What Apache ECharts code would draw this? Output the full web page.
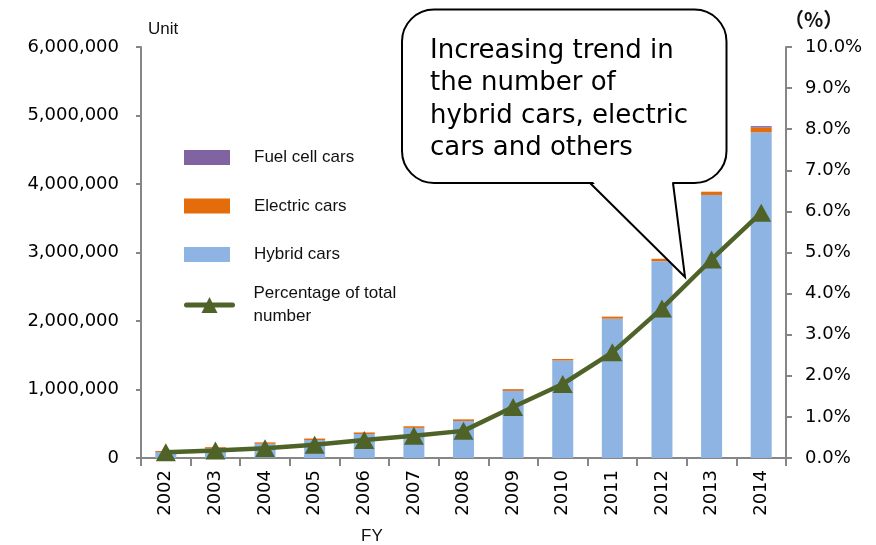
<!DOCTYPE html>
<html>
<head>
<meta charset="utf-8">
<script src="https://cdn.jsdelivr.net/npm/echarts@6/dist/echarts.min.js"></script>
<style>
  html, body { margin: 0; padding: 0; background: #fff; }
  #chart { width: 876px; height: 545px; }
</style>
</head>
<body>
<div id="chart"></div>
<script>
// Fiscal years on the category axis
const years = ['2002', '2003', '2004', '2005', '2006', '2007', '2008', '2009', '2010', '2011', '2012', '2013', '2014'];

// Vehicles owned, by type (units)
const hybridCars = [87000, 140000, 208000, 262000, 350000, 440000, 540000, 980000, 1423000, 2034000, 2873000, 3840000, 4755000];
const electricCars = [15000, 18000, 20000, 22000, 23000, 23000, 24000, 25000, 22000, 30000, 35000, 48000, 68000];
const fuelCellCars = [100, 100, 100, 100, 100, 100, 100, 100, 100, 100, 100, 100, 22000];

// Share of all vehicles (%)
const shareOfTotal = [0.14, 0.18, 0.24, 0.32, 0.44, 0.54, 0.66, 1.24, 1.80, 2.57, 3.64, 4.83, 5.97];

// Axis ranges
const unitAxis = { min: 0, max: 6000000, step: 1000000 };
const pctAxis = { min: 0, max: 10, step: 1 };

const axisGrey = '#868686';
const lineGreen = '#4F6228';
const labelFont = 'DejaVu Sans';
const plainFont = 'Liberation Sans';

const chart = echarts.init(document.getElementById('chart'), null, { renderer: 'canvas' });

chart.setOption({
  animation: false,
  backgroundColor: '#ffffff',
  grid: { left: 141, right: 90, top: 47, bottom: 87 },
  legend: [
    {
      data: ['Fuel cell cars', 'Electric cars', 'Hybrid cars'],
      orient: 'vertical',
      left: 184,
      top: 149,
      padding: 0,
      icon: 'rect',
      itemWidth: 46,
      itemHeight: 15,
      itemGap: 31.5,
      selectedMode: false,
      textStyle: { fontFamily: plainFont, fontSize: 17, color: '#111', padding: [0, 0, 0, 19] }
    },
    {
      data: ['Percentage of total number'],
      orient: 'vertical',
      left: 184,
      top: 282,
      padding: 0,
      itemWidth: 46,
      itemHeight: 20,
      selectedMode: false,
      lineStyle: { width: 5, cap: 'round', color: lineGreen },
      itemStyle: { color: lineGreen },
      formatter: () => 'Percentage of total\nnumber',
      textStyle: { fontFamily: plainFont, fontSize: 17, lineHeight: 23, color: '#111', padding: [0, 0, 0, 16] }
    }
  ],
  xAxis: {
    type: 'category',
    data: years,
    boundaryGap: true,
    axisLine: { lineStyle: { color: axisGrey, width: 2 } },
    axisTick: { show: true, length: 8, lineStyle: { color: axisGrey, width: 2 } },
    axisLabel: { rotate: 90, margin: 12, fontFamily: labelFont, fontSize: 18, color: '#000' }
  },
  yAxis: [
    {
      type: 'value',
      min: unitAxis.min,
      max: unitAxis.max,
      interval: unitAxis.step,
      splitLine: { show: false },
      axisLine: { show: true, lineStyle: { color: axisGrey, width: 2 } },
      axisTick: { show: true, length: 5, lineStyle: { color: axisGrey, width: 2 } },
      axisLabel: {
        margin: 22,
        fontFamily: labelFont,
        fontSize: 18,
        color: '#000',
        formatter: v => v.toLocaleString('en-US')
      }
    },
    {
      type: 'value',
      position: 'right',
      min: pctAxis.min,
      max: pctAxis.max,
      interval: pctAxis.step,
      splitLine: { show: false },
      axisLine: { show: true, lineStyle: { color: axisGrey, width: 2 } },
      axisTick: { show: true, length: 6, lineStyle: { color: axisGrey, width: 2 } },
      axisLabel: {
        margin: 19,
        fontFamily: labelFont,
        fontSize: 18,
        color: '#000',
        formatter: v => v.toFixed(1) + '%'
      }
    }
  ],
  series: [
    {
      name: 'Hybrid cars',
      type: 'bar',
      stack: 'owned',
      barWidth: 21,
      data: hybridCars,
      itemStyle: { color: '#8EB4E3' }
    },
    {
      name: 'Electric cars',
      type: 'bar',
      stack: 'owned',
      barWidth: 21,
      data: electricCars,
      itemStyle: { color: '#E46C0A' }
    },
    {
      name: 'Fuel cell cars',
      type: 'bar',
      stack: 'owned',
      barWidth: 21,
      data: fuelCellCars,
      itemStyle: { color: '#8064A2' }
    },
    {
      name: 'Percentage of total number',
      type: 'line',
      yAxisIndex: 1,
      data: shareOfTotal,
      symbol: 'triangle',
      symbolSize: [20, 18],
      lineStyle: { color: lineGreen, width: 4.5 },
      itemStyle: { color: lineGreen },
      z: 5
    }
  ],
  graphic: [
    {
      type: 'text',
      left: 148,
      top: 21,
      style: { text: 'Unit', fontFamily: plainFont, fontSize: 17, fill: '#111' }
    },
    {
      type: 'text',
      left: 784,
      top: 9,
      style: { text: '（%）', fontFamily: 'Noto Sans CJK JP', fontWeight: 'bold', fontSize: 20, fill: '#111' }
    },
    {
      type: 'text',
      left: 361,
      top: 528,
      style: { text: 'FY', fontFamily: plainFont, fontSize: 17, fill: '#111' }
    },
    // Speech-bubble callout: rounded box, white patch over the tail's base, then the tail outline
    {
      type: 'rect',
      z: 10,
      shape: { x: 402, y: 9.5, width: 324.5, height: 173.5, r: 32 },
      style: { fill: '#fff', stroke: '#000', lineWidth: 2 }
    },
    {
      type: 'polygon',
      z: 11,
      shape: { points: [[591, 180], [672, 180], [685, 277]] },
      style: { fill: '#fff' }
    },
    {
      type: 'polyline',
      z: 12,
      shape: { points: [[590, 183], [685, 277], [673, 183]] },
      style: { fill: null, stroke: '#000', lineWidth: 2, lineJoin: 'miter' }
    },
    {
      type: 'text',
      z: 13,
      left: 430,
      top: 35,
      style: {
        text: 'Increasing trend in\nthe number of\nhybrid cars, electric\ncars and others',
        fontFamily: labelFont,
        fontSize: 26,
        lineHeight: 32.3,
        fill: '#000'
      }
    }
  ]
});
</script>
</body>
</html>
